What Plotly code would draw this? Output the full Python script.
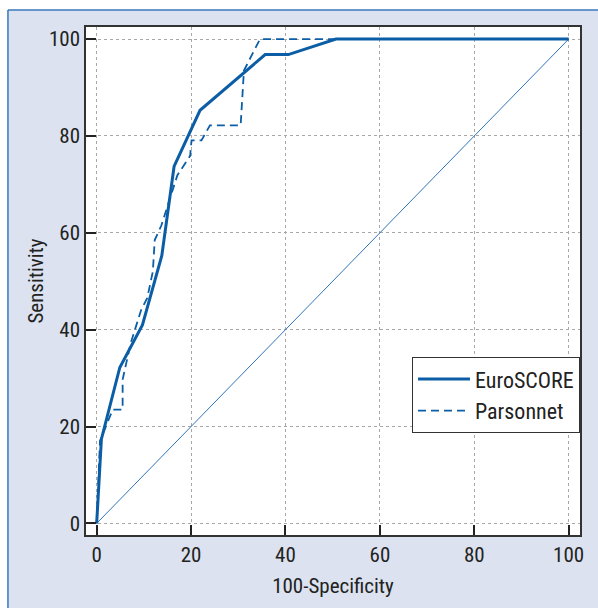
import plotly.graph_objects as go

# Data
euro_x = [0, 1.0, 4.9, 9.7, 13.8, 16.4, 21.9, 35.7, 40.6, 50.7, 100]
euro_y = [0, 17.4, 32.2, 41.0, 55.3, 73.7, 85.3, 96.8, 96.8, 100, 100]

pars_x = [0, 0.4, 0.7, 3.4, 5.5, 5.5, 7.2, 9.4, 10.7, 11.9, 12.3, 13.7, 17.1, 19.8, 20.1, 22.2, 24.0, 30.5, 31.2, 34.6, 100]
pars_y = [0, 8, 17, 23.5, 23.5, 29.7, 37.2, 44, 46.5, 52, 58.5, 61.5, 71.9, 75.9, 79.1, 79.1, 82.2, 82.2, 93.5, 100, 100]

diag_x = [0, 100]
diag_y = [0, 100]

tick_vals = [0, 20, 40, 60, 80, 100]
tick_text = ["0", "20", "40", "60", "80", "100"]

BLUE = "#0b5ea6"
FONT = "Liberation Sans Narrow, Arial Narrow, Roboto Condensed, Liberation Sans, sans-serif"
PANEL = "#dce2ef"
PANEL_LINE = "#3a78bd"
TXT = "#222222"

fig = go.Figure()
fig.add_trace(go.Scatter(x=diag_x, y=diag_y, mode="lines",
                         line=dict(color="#2f74b8", width=1), showlegend=False,
                         hoverinfo="skip"))
fig.add_trace(go.Scatter(x=euro_x, y=euro_y, mode="lines", name="EuroSCORE",
                         legendgroup="a",
                         line=dict(color=BLUE, width=3)))
fig.add_trace(go.Scatter(x=pars_x, y=pars_y, mode="lines", name="Parsonnet",
                         legendgroup="b",
                         line=dict(color=BLUE, width=1.8, dash="8px,5px")))

axis_common = dict(
    showline=True, linecolor="#333333", linewidth=1.5, mirror=True,
    ticks="inside", ticklen=10, tickwidth=1.5, tickcolor=TXT,
    showgrid=True, gridcolor="#a8a8a8", gridwidth=1, griddash="dot",
    zeroline=False, tickvals=tick_vals, ticktext=tick_text,
    tickfont=dict(family=FONT, size=21, color=TXT),
    title_font=dict(family=FONT, size=21, color=TXT),
)

fig.update_layout(
    width=598, height=608,
    margin=dict(l=86, r=18, t=27, b=73),
    paper_bgcolor="white", plot_bgcolor="white",
    xaxis=dict(range=[-2.26, 102.4], title=dict(text="100-Specificity", standoff=12), **axis_common),
    yaxis=dict(range=[-2.4, 102.5], title=dict(text="Sensitivity", standoff=0), **axis_common),
    legend=dict(x=1, xanchor="right", y=0.35, yanchor="top",
                bgcolor="white", bordercolor="#333333", borderwidth=1,
                font=dict(family=FONT, size=22, color=TXT),
                traceorder="grouped", tracegroupgap=0, itemwidth=52),
    showlegend=True,
    shapes=[
        dict(type="rect", xref="paper", yref="paper", x0=-0.158, x1=1.1, y0=-0.2, y1=1.0335,
             fillcolor=PANEL, line=dict(width=0), layer="below"),
        dict(type="rect", xref="paper", yref="paper", x0=0, x1=1, y0=0, y1=1,
             fillcolor="white", line=dict(width=0), layer="below"),
        dict(type="line", xref="paper", yref="paper", x0=-0.158, x1=1.1, y0=1.0335, y1=1.0335,
             line=dict(color=PANEL_LINE, width=1.5)),
        dict(type="line", xref="paper", yref="paper", x0=-0.158, x1=-0.158, y0=-0.2, y1=1.0335,
             line=dict(color=PANEL_LINE, width=1.5)),
    ],
)

fig.write_html("out.html", config={"displayModeBar": False},
               post_script="document.body.style.margin='0';document.body.style.padding='0';")
